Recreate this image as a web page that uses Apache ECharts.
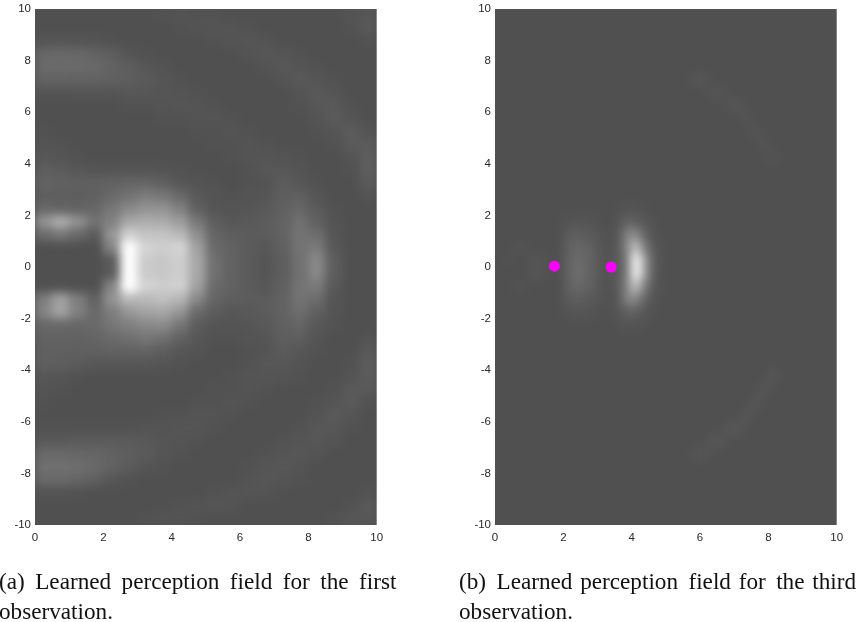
<!DOCTYPE html>
<html><head><meta charset="utf-8">
<style>html,body{margin:0;padding:0;background:#fff}#c{width:859px;height:622px}</style>
<script src="https://cdn.jsdelivr.net/npm/echarts@6/dist/echarts.min.js"></script>
</head><body><div id="c"></div>
<script>
// Intensity: 0 = background grey, 100 = white.
// Panel (a): rows run from y=9.75 down to y=-9.75 (step 0.5), columns x=0.25..9.75 (step 0.5).
const fieldA = [
[0,0,0,0,0,0,0,1,2,1,1,0,0,0,0,0,0,0,2,4],
[0,0,0,0,0,0,0,0,1,2,3,2,1,0,0,0,0,0,1,5],
[3,3,3,2,1,0,0,0,0,0,1,2,3,2,0,0,0,0,0,1],
[13,14,13,11,8,3,1,0,0,0,0,0,2,4,3,1,0,0,0,0],
[15,15,15,14,11,8,4,2,0,0,0,0,0,2,4,3,1,0,0,0],
[11,11,10,10,9,8,6,3,1,0,0,0,0,0,2,5,3,1,0,0],
[2,2,3,3,3,4,4,3,2,1,0,0,0,0,0,2,5,3,0,0],
[0,0,0,0,0,1,1,2,3,2,1,0,0,0,0,1,4,5,1,0],
[0,0,0,0,0,0,0,1,1,2,2,1,0,0,0,0,2,6,3,0],
[1,0,0,0,0,0,0,0,0,1,1,2,1,0,0,0,1,3,7,2],
[2,1,0,0,0,0,0,0,0,0,1,1,2,1,0,0,0,1,6,6],
[4,3,1,0,0,0,0,0,0,0,0,1,2,3,2,1,0,0,2,8],
[8,6,4,3,3,3,3,2,1,0,0,0,1,4,4,2,0,0,1,8],
[11,10,9,9,10,12,12,9,4,2,1,0,1,2,7,4,1,0,0,6],
[8,8,8,9,14,20,25,22,14,5,2,1,2,3,8,9,3,0,0,2],
[14,12,11,13,22,32,38,38,28,9,3,2,3,5,9,13,6,1,0,0],
[38,54,38,20,28,50,54,52,44,22,8,4,5,7,10,18,9,2,0,0],
[16,22,14,6,40,74,66,66,60,36,12,8,7,7,10,20,17,3,0,0],
[0,0,0,0,30,100,76,72,76,46,15,10,6,4,9,20,24,5,0,0],
[0,0,0,0,6,100,70,68,72,50,18,10,6,3,8,18,32,8,0,0],
[0,0,0,0,6,100,70,68,72,50,18,10,6,3,8,18,32,8,0,0],
[0,0,0,0,30,100,76,72,74,46,15,10,6,4,9,20,24,5,0,0],
[26,46,26,10,38,60,60,64,58,32,12,8,7,7,10,20,16,3,0,0],
[30,48,28,14,26,40,48,50,40,15,7,4,5,7,10,17,9,2,0,0],
[14,14,13,14,22,28,32,34,22,7,3,2,3,5,9,12,5,1,0,0],
[10,10,10,12,15,18,22,19,10,4,1,1,2,3,8,8,3,0,0,1],
[9,9,9,9,10,10,11,8,4,2,0,0,1,2,6,4,1,0,0,5],
[9,8,6,4,4,4,4,3,1,0,0,0,1,4,4,2,0,0,1,7],
[4,3,1,0,0,0,0,0,0,0,0,1,2,3,2,1,0,0,2,7],
[2,1,0,0,0,0,0,0,0,0,1,1,2,1,0,0,0,1,5,5],
[1,0,0,0,0,0,0,0,0,1,1,2,1,0,0,0,1,3,6,1],
[0,0,0,0,0,0,0,1,1,2,2,1,0,0,0,0,2,5,3,0],
[1,1,1,1,1,1,2,2,3,3,1,0,0,0,0,1,4,4,1,0],
[5,5,6,6,6,6,5,3,2,1,0,0,0,0,1,3,4,2,0,0],
[14,14,13,12,10,8,6,3,1,0,0,0,0,1,3,4,2,0,0,0],
[18,18,17,14,10,7,3,1,0,0,0,0,1,3,4,2,0,0,0,0],
[14,14,12,9,4,1,0,0,0,0,0,0,2,4,3,1,0,0,0,0],
[2,2,1,0,0,0,0,0,0,0,1,2,3,2,0,0,0,0,0,1],
[0,0,0,0,0,0,0,0,1,2,3,2,0,0,0,0,0,0,1,5],
[0,0,0,0,0,0,1,2,2,1,0,0,0,0,0,0,0,1,4,4]
];
// Panel (b) centre patch: rows y=2.25..-2.25 (step 0.5), columns x=2.125..4.875 (step 0.25).
const fieldBCentre = [
[0,0,0,0,0,0,1,3,2,1,0,0],
[2,3,3,2,0,0,3,11,9,4,1,0],
[6,8,7,5,2,0,5,30,34,12,3,0],
[8,13,12,8,3,1,7,32,68,28,6,1],
[9,16,14,9,3,2,6,26,100,48,8,1],
[9,17,14,9,3,2,6,26,100,48,8,1],
[8,14,12,8,3,1,7,32,68,28,6,1],
[6,8,7,5,2,1,5,30,32,12,3,0],
[2,3,3,2,0,1,3,11,9,4,1,0],
[0,0,0,0,0,0,1,3,2,1,0,0]
];
// Panel (b) faint arcs and marks: [x, y, intensity]
const fieldBFaint = [
[5.875,7.25,3],[6.125,7.25,3],[6.375,6.75,3],[6.625,6.75,3],[6.875,6.25,3],[7.125,6.25,3],
[7.375,5.75,3],[7.625,5.25,3],[7.875,4.75,3],[8.125,4.25,3],
[5.875,-7.25,3],[6.125,-7.25,3],[6.375,-6.75,4],[6.625,-6.75,4],[6.875,-6.25,4],[7.125,-6.25,4],
[7.375,-5.75,4],[7.625,-5.25,4],[7.875,-4.75,4],[8.125,-4.25,4],
[1.125,0.25,3],[1.375,0.25,3],[1.125,-0.25,3],[1.375,-0.25,3],
[0.375,0.25,1],[0.625,0.75,1],[0.875,0.75,1],[0.625,-0.75,1],[0.875,-0.75,1]
];
// Observations marked in panel (b): [x, y]
const observations = [[1.74,0.03],[3.4,0]];
const tickValues = [0,2,4,6,8,10];
// Word gaps carry thin/hair spaces so the captions span the column like the justified originals.
const captionA = ['(a) \u2009Learned \u2009perception \u2009field \u2009for \u2009the \u2009first','observation.'];
const captionB = ['(b) \u2009Learned \u200aperception \u2009field \u200afor \u2009the \u200athird','observation.'];

const BLUR_PX = 5;
const yCats = Array.from({length:40},(_, i)=>-9.75+i*0.5);
const xCatsA = Array.from({length:20},(_, i)=>0.25+i*0.5);
const xCatsB = Array.from({length:40},(_, i)=>0.125+i*0.25);

const dataA = [];
fieldA.forEach((row,r)=>row.forEach((v,c)=>dataA.push([c,39-r,v])));
const dataB = [];
fieldBCentre.forEach((row,r)=>row.forEach((v,c)=>{ if(v) dataB.push([8+c,39-(15+r),v]); }));
fieldBFaint.forEach(p=>dataB.push([xCatsB.indexOf(p[0]),yCats.indexOf(p[1]),p[2]]));

const label = {show:true,fontFamily:'Liberation Sans',fontSize:11.5,color:'#2a2a2a'};
function catAxis(kind,grid,data){return {type:'category',gridIndex:grid,data:data,show:false,boundaryGap:true};}
function valX(grid){return {type:'value',gridIndex:grid,min:0,max:10,interval:2,position:'bottom',zlevel:1,
  axisLine:{show:false},axisTick:{show:false},splitLine:{show:false},axisLabel:{...label,margin:7,hideOverlap:false,showMinLabel:true,showMaxLabel:true}};}
function valY(grid){return {type:'value',gridIndex:grid,min:-10,max:10,interval:2,position:'left',zlevel:1,
  axisLine:{show:false},axisTick:{show:false},splitLine:{show:false},axisLabel:{...label,margin:4,showMinLabel:true,showMaxLabel:true}};}
function cap(text,x,y){return {type:'text',zlevel:1,x:x,y:y,silent:true,
  style:{text:text,fontFamily:'Liberation Serif',fontSize:23.2,fill:'#111',textAlign:'left',textVerticalAlign:'middle'}};}

const L=[35,495], W=341.7;
const chart = echarts.init(document.getElementById('c'),null,{renderer:'canvas'});
chart.setOption({
  animation:false,
  backgroundColor:'transparent',
  grid:[
    {left:L[0],top:9,width:W,height:516},
    {left:L[1],top:9,width:W,height:516}
  ],
  xAxis:[catAxis('x',0,xCatsA),valX(0),catAxis('x',1,xCatsB),valX(1)],
  yAxis:[catAxis('y',0,yCats),valY(0),catAxis('y',1,yCats),valY(1)],
  visualMap:{show:false,type:'continuous',min:0,max:100,seriesIndex:[0,1],dimension:2,
    inRange:{color:['#505050','#ffffff']}},
  series:[
    {type:'heatmap',xAxisIndex:0,yAxisIndex:0,data:dataA,progressive:0,zlevel:0,itemStyle:{borderWidth:0}},
    {type:'heatmap',xAxisIndex:2,yAxisIndex:2,data:dataB,progressive:0,zlevel:0,itemStyle:{borderWidth:0}},
    {type:'scatter',xAxisIndex:3,yAxisIndex:3,data:observations,symbolSize:11,zlevel:1,
      itemStyle:{color:'#ff00ff',opacity:1}}
  ],
  graphic:{elements:[
    cap(captionA[0],-1,583),cap(captionA[1],-1,613),
    cap(captionB[0],459,583),cap(captionB[1],459,613)
  ]}
});
// The field layer is soft in the original: blur only that canvas and trim it to the two plot areas.
const field = chart.getDom().querySelector('canvas[data-zr-dom-id="zr_0"]');
if(field){
  field.style.backgroundColor='#505050';
  field.style.filter='blur('+BLUR_PX+'px)';
  field.style.clipPath="path('M35 9H376.7V525H35ZM495 9H836.7V525H495Z')";
}
</script></body></html>
